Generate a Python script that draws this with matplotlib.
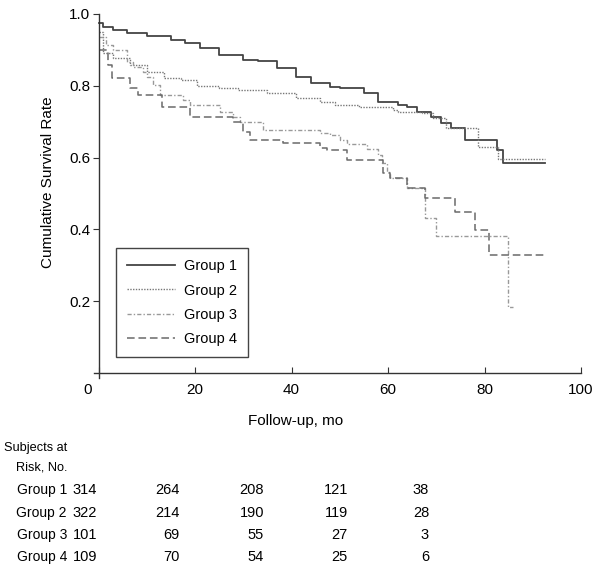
import matplotlib
matplotlib.use('Agg')
import matplotlib.pyplot as plt
from matplotlib.transforms import blended_transform_factory

plt.rcParams['font.family'] = ['Liberation Sans', 'DejaVu Sans']

# Kaplan-Meier steps: (time in months, survival after the step)
g1_t = [0, 1, 3, 6, 10, 15, 18, 21, 25, 30, 33, 37, 41, 44, 48, 50, 55, 58, 62, 64, 66, 69, 71, 73, 76, 82.5, 83.8, 92.5]
g1_s = [0.975, 0.965, 0.955, 0.947, 0.939, 0.928, 0.919, 0.905, 0.886, 0.872, 0.869, 0.850, 0.825, 0.808, 0.797, 0.794,
        0.780, 0.755, 0.747, 0.741, 0.727, 0.713, 0.696, 0.682, 0.649, 0.621, 0.585, 0.585]

g2_t = [0, 1, 3, 6.5, 10, 13.5, 17, 20.5, 25, 29, 35, 41, 46, 49, 54, 61, 62, 67, 69.3, 72, 78.6, 82.8, 92.5]
g2_s = [0.95, 0.89, 0.877, 0.858, 0.838, 0.821, 0.816, 0.800, 0.794, 0.788, 0.780, 0.767, 0.755, 0.747, 0.741, 0.733,
        0.727, 0.724, 0.710, 0.682, 0.630, 0.596, 0.596]

g3_t = [0, 1.5, 3, 5.9, 7.2, 9.2, 10, 11.3, 12.7, 17.5, 19, 25.2, 27.9, 29.3, 34.1, 45.9, 48, 50, 51.5, 55.6, 57.9,
        58.8, 59.8, 60.5, 63.9, 67.7, 70, 84.9, 85.9]
g3_s = [0.935, 0.915, 0.900, 0.866, 0.852, 0.838, 0.825, 0.802, 0.774, 0.760, 0.747, 0.727, 0.713, 0.699, 0.676, 0.668,
        0.663, 0.649, 0.638, 0.625, 0.608, 0.585, 0.560, 0.543, 0.515, 0.432, 0.382, 0.184, 0.184]

g4_t = [0, 2, 2.8, 6.5, 8.2, 13.2, 19, 27.9, 30, 31.3, 38.2, 45.9, 47.4, 51.5, 59, 60.5, 63.9, 67.7, 73.9, 78, 80.9, 92.9]
g4_s = [0.90, 0.858, 0.821, 0.794, 0.774, 0.741, 0.713, 0.699, 0.671, 0.649, 0.641, 0.627, 0.621, 0.593, 0.557, 0.543,
        0.515, 0.487, 0.449, 0.398, 0.329, 0.329]

groups = ['Group 1', 'Group 2', 'Group 3', 'Group 4']
risk_times = [0, 20, 40, 60, 80]
risk = {
    'Group 1': [314, 264, 208, 121, 38],
    'Group 2': [322, 214, 190, 119, 28],
    'Group 3': [101, 69, 55, 27, 3],
    'Group 4': [109, 70, 54, 25, 6],
}
xticks = [0, 20, 40, 60, 80, 100]
yticks = [0.2, 0.4, 0.6, 0.8, 1.0]

W, H = 600, 573
fig = plt.figure(figsize=(W / 100, H / 100), dpi=100)
ax = fig.add_axes([93.7 / W, 1 - 378.4 / H, 487.3 / W, 364.4 / H])

styles = [
    dict(color='#444444', lw=1.3, ls='-'),
    dict(color='#777777', lw=1.0, ls=(0, (1, 1))),
    dict(color='#999999', lw=1.0, ls=(0, (3, 1.5, 1, 1.5))),
    dict(color='#6a6a6a', lw=1.1, ls=(0, (5, 2.5))),
]
for name, t, s, st in zip(groups, [g1_t, g2_t, g3_t, g4_t], [g1_s, g2_s, g3_s, g4_s], styles):
    ax.step(t, s, where='post', label=name, **st)

ax.set_xlim(-1, 100)
ax.set_ylim(-0.015, 1.0)
for side in ['top', 'right']:
    ax.spines[side].set_visible(False)
ax.spines['left'].set_position(('data', 0))
ax.spines['bottom'].set_position(('data', 0))
for side in ['left', 'bottom']:
    ax.spines[side].set_color('#333333')
    ax.spines[side].set_linewidth(1.0)

ax.set_xticks(xticks)
# the "0" label sits left of the axis in the reference, drawn separately below
ax.set_xticklabels([''] + [str(v) for v in xticks[1:]], fontsize=11)
ax.set_yticks(yticks)
ax.set_yticklabels(['%.1f' % v for v in yticks], fontsize=11)
ax.tick_params(axis='x', direction='in', length=4, pad=7, color='#333333')
ax.tick_params(axis='y', direction='out', length=4, pad=2, color='#333333')
trans = blended_transform_factory(ax.transData, ax.transAxes)
ax.text(-2.2, ax.transAxes.inverted().transform(fig.transFigure.transform((0, 1 - 390 / H)))[1], '0',
        transform=trans, ha='center', va='center', fontsize=11)

leg = ax.legend(loc='lower left', bbox_to_anchor=(0.0458, 0.059), borderaxespad=0,
                fontsize=10.5, fancybox=False, framealpha=1, edgecolor='#444444',
                handlelength=3.3, handletextpad=0.6, labelspacing=0.7, borderpad=0.75)
leg.get_frame().set_linewidth(1.0)

fig.text(48 / W, 1 - 182 / H, 'Cumulative Survival Rate', rotation=90, ha='center', va='center', fontsize=11)
fig.text(296 / W, 1 - 421 / H, 'Follow-up, mo', ha='center', va='center', fontsize=11)

fig.text(67 / W, 1 - 448 / H, 'Subjects at', ha='right', va='center', fontsize=9.2)
fig.text(67 / W, 1 - 467 / H, 'Risk, No.', ha='right', va='center', fontsize=9.2)
col_x = [97, 180, 264, 348, 429]
row_y = [490, 513, 535, 557]
for g, y in zip(groups, row_y):
    fig.text(67 / W, 1 - y / H, g, ha='right', va='center', fontsize=10)
    for x, v in zip(col_x, risk[g]):
        fig.text(x / W, 1 - y / H, str(v), ha='right', va='center', fontsize=10.5)

fig.savefig('out.png', dpi=100)
